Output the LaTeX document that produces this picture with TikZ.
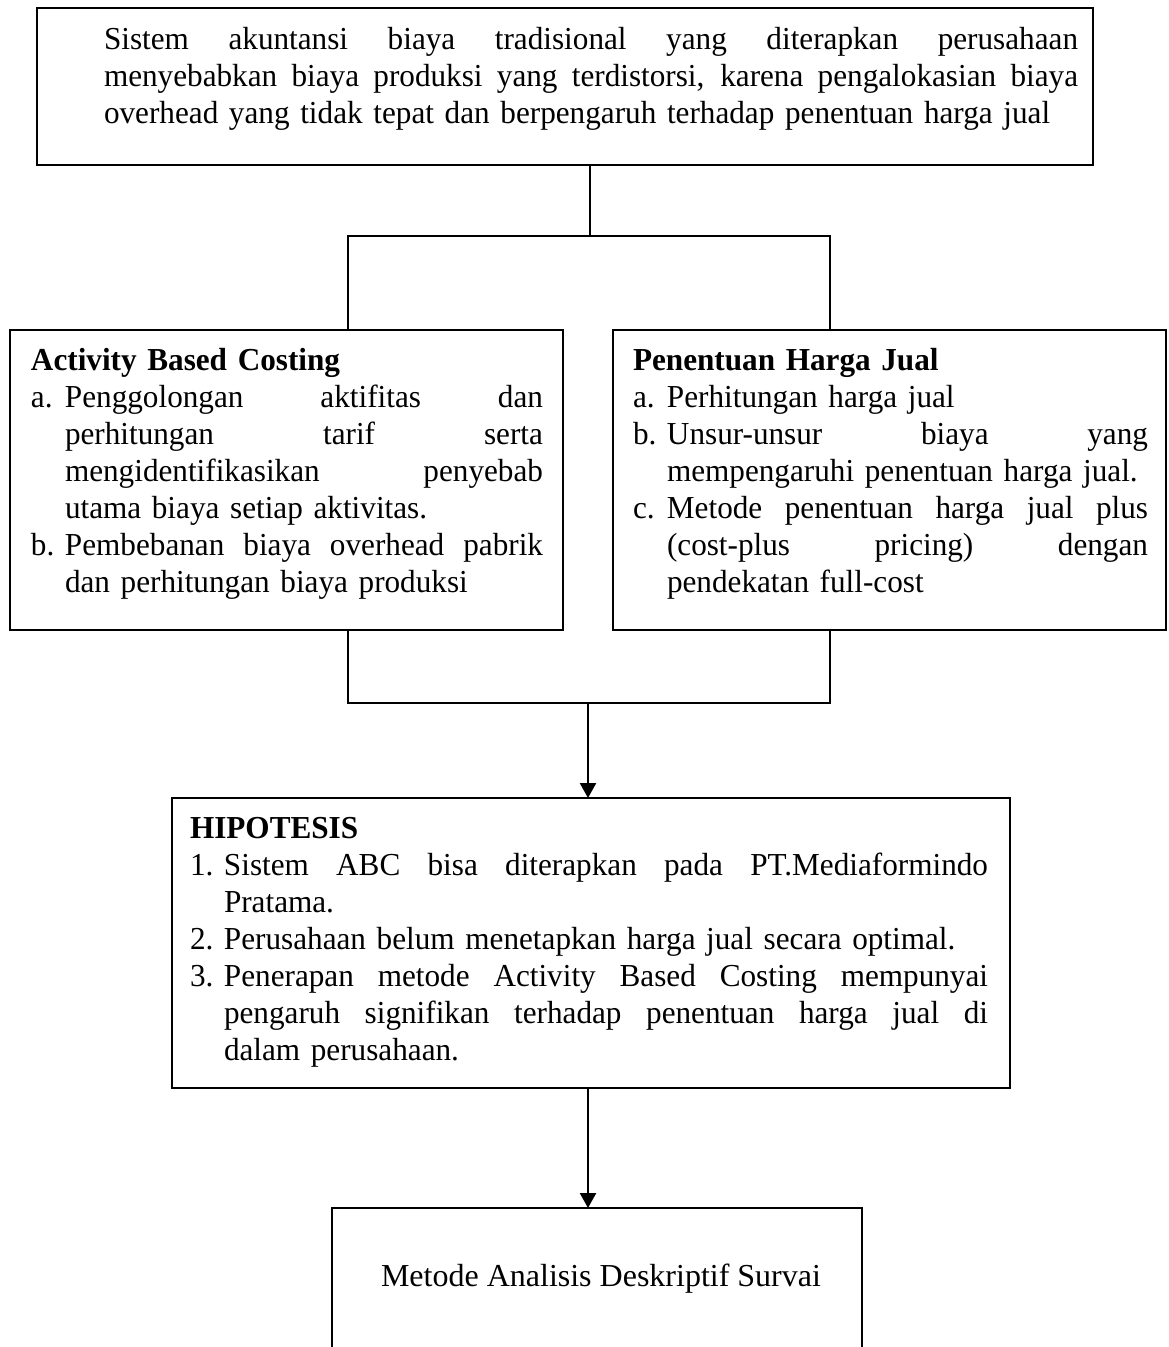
\documentclass[tikz,border=0pt]{standalone}
\usepackage{fontspec}
\setmainfont[FakeStretch=0.975]{Liberation Serif}
\newfontfamily\plainserif{Liberation Serif}
\usetikzlibrary{arrows.meta}
\newlength{\indw}
\setlength{\indw}{17pt}
\newlength{\bw}
\newcommand{\jspace}{\spaceskip=0.25em plus 1fill\xspaceskip=0.25em plus 1fill\relax}
% full-width justified line
\newcommand{\JL}[1]{\makebox[\bw][l]{\jspace #1}}
% item line, justified
\newcommand{\IL}[2]{\makebox[\indw][l]{#1}\makebox[\dimexpr\bw-\indw\relax][l]{\jspace #2}}
% item line, natural
\newcommand{\IN}[2]{\makebox[\indw][l]{#1}\mbox{#2}}
% continuation line, justified
\newcommand{\CL}[1]{\hspace*{\indw}\makebox[\dimexpr\bw-\indw\relax][l]{\jspace #1}}
% continuation line, natural
\newcommand{\CN}[1]{\hspace*{\indw}\mbox{#1}}
\tikzset{
  box/.style={draw, line width=1.3pt, rectangle, outer sep=0pt, inner sep=0pt},
  txt/.style={anchor=base west, inner sep=0pt, outer sep=0pt, align=left,
              font=\fontsize{16}{18.5}\selectfont},
  link/.style={line width=1.2pt},
  arr/.style={line width=1.2pt, -{Triangle[length=7.5pt,width=8pt]}}
}
\begin{document}
\begin{tikzpicture}[x=0.5pt,y=-0.5pt]
\useasboundingbox (0,0) rectangle (1168,1347);
\clip (0,0) rectangle (1168,1347);

% boxes
\node[box, minimum width=528pt, minimum height=78.5pt] (top) at (565,86.5) {};
\node[box, minimum width=276.5pt, minimum height=150pt] (abc) at (286.5,480) {};
\node[box, minimum width=276.5pt, minimum height=150pt] (phj) at (889.5,480) {};
\node[box, minimum width=419pt, minimum height=145pt] (hip) at (591,943) {};
\node[box, minimum width=265pt, minimum height=150pt] (bot) at (597,1358) {};

% texts
\node[txt, text width=500pt] (toptxt) at (104,50) {\setlength{\bw}{487pt}%
\JL{Sistem akuntansi biaya tradisional yang diterapkan perusahaan}\\
\JL{menyebabkan biaya produksi yang terdistorsi, karena pengalokasian biaya}\\
\mbox{overhead yang tidak tepat dan berpengaruh terhadap penentuan harga jual}};

\node[txt, text width=270pt] (abctxt) at (31,371) {\setlength{\bw}{256pt}%
\textbf{Activity Based Costing}\\
\IL{a.}{Penggolongan aktifitas dan}\\
\CL{perhitungan tarif serta}\\
\CL{mengidentifikasikan penyebab}\\
\CN{utama biaya setiap aktivitas.}\\
\IL{b.}{Pembebanan biaya overhead pabrik}\\
\CN{dan perhitungan biaya produksi}};

\node[txt, text width=270pt] (phjtxt) at (633,371) {\setlength{\bw}{257.5pt}%
\textbf{Penentuan Harga Jual}\\
\IN{a.}{Perhitungan harga jual}\\
\IL{b.}{Unsur-unsur biaya yang}\\
\CN{mempengaruhi penentuan harga jual.}\\
\IL{c.}{Metode penentuan harga jual plus}\\
\CL{(cost-plus pricing) dengan}\\
\CN{pendekatan full-cost}};

\node[txt, text width=410pt] (hiptxt) at (190,838) {\setlength{\bw}{399pt}%
\textbf{HIPOTESIS}\\
\IL{1.}{Sistem ABC bisa diterapkan pada PT.Mediaformindo}\\
\CN{Pratama.}\\
\IN{2.}{Perusahaan belum menetapkan harga jual secara optimal.}\\
\IL{3.}{Penerapan metode Activity Based Costing mempunyai}\\
\CL{pengaruh signifikan terhadap penentuan harga jual di}\\
\CN{dalam perusahaan.}};

\node[anchor=base, inner sep=0pt, font=\plainserif\fontsize{16}{18.5}\selectfont] (bottxt) at (601,1286) {Metode Analisis Deskriptif Survai};

% connector coordinates
\coordinate (j0) at (590,236);
\coordinate (bl) at (348,236);
\coordinate (br) at (830,236);
\coordinate (cl) at (348,703);
\coordinate (cr) at (830,703);
\coordinate (cm) at (588,703);

\draw[link] (top.south -| j0) -- (j0);
\draw[link] (abc.north -| bl) -- (bl) -- (br) -- (phj.north -| br);
\draw[link] (abc.south -| cl) -- (cl) -- (cr) -- (phj.south -| cr);
\draw[arr] (cm) -- (hip.north -| cm);
\draw[arr] (hip.south -| cm) -- (bot.north -| cm);
\end{tikzpicture}
\end{document}
